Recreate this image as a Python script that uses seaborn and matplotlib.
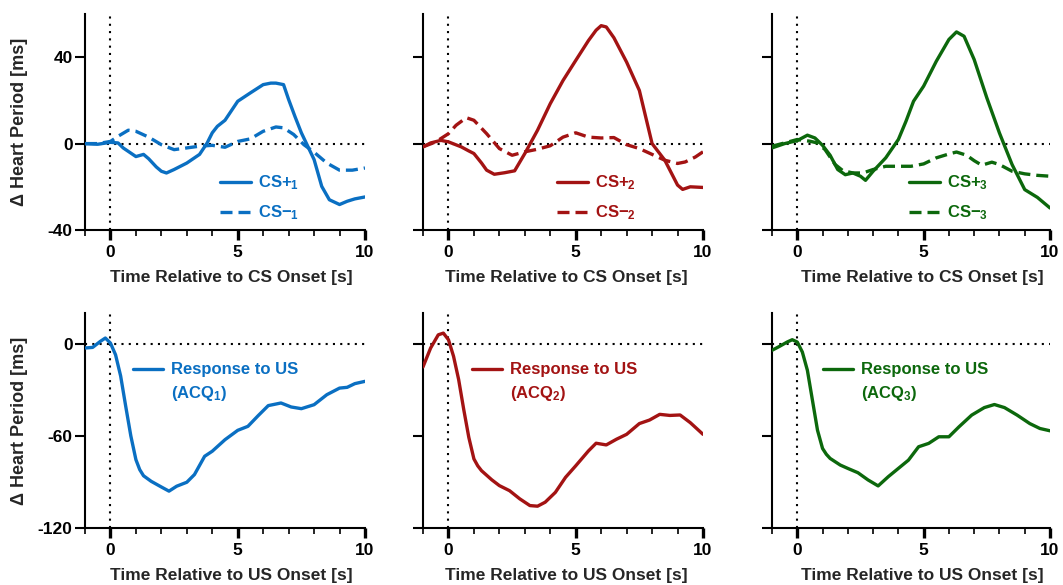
import matplotlib
matplotlib.use("Agg")
import matplotlib.pyplot as plt
import seaborn as sns
from matplotlib.lines import Line2D
from matplotlib.ticker import MultipleLocator

# ---------------- data (time in s, change in heart period in ms) ----------------
cs_plus_1_t = [-1, -0.5, 0, 0.3, 0.5, 1, 1.3, 1.5, 1.8, 2, 2.2, 2.5, 3, 3.5, 3.8, 4, 4.2, 4.5,
               5, 5.5, 6, 6.3, 6.5, 6.8, 7, 7.25, 7.5, 8, 8.3, 8.6, 9, 9.3, 9.6, 10]
cs_plus_1 = [0, -0.3, 0.6, 0.3, -2, -6, -5, -7, -10.8, -12.8, -13.6, -12, -9, -5, 0.3, 5, 8, 10.8,
             19.6, 23.5, 27.3, 28, 28, 27.3, 20.4, 12.5, 5, -7.4, -19.8, -26, -28.2, -26.7,
             -25.6, -24.7]
cs_minus_1_t = [-1, -0.5, 0, 0.3, 0.7, 1, 1.5, 2, 2.5, 3, 3.5, 4, 4.5, 5, 5.5, 6, 6.5, 6.8,
                7.2, 7.6, 8, 8.5, 9, 9.5, 10]
cs_minus_1 = [0, 0, 1, 3.4, 6.2, 5.7, 3, -0.5, -2.8, -2, -1.2, -0.8, -1.7, 1, 2.2, 5.7, 7.7, 7.3,
              4.2, -0.5, -4, -9, -12.3, -12.3, -11.3]

cs_plus_2_t = [-1, -0.7, -0.3, 0, 0.5, 0.8, 1, 1.3, 1.5, 1.8, 2.2, 2.6, 3, 3.5, 4, 4.5, 5, 5.5,
               5.8, 6, 6.2, 6.5, 7, 7.5, 8, 8.5, 9, 9.2, 9.5, 10]
cs_plus_2 = [-1.5, 0.3, 1.5, 0.8, -1.5, -3.4, -4.6, -9, -12.3, -14.2, -13.5, -12.6, -4.6, 6.2,
             18.5, 29.2, 38.5, 47.7, 52.5, 54.6, 54, 49, 37.7, 24.6, 0, -7.7, -19.2, -21.2, -20,
             -20.3]
cs_minus_2_t = [-1, -0.5, 0, 0.3, 0.7, 1, 1.5, 2, 2.5, 3, 3.5, 4, 4.5, 5, 5.5, 6, 6.5, 7, 7.5,
                8, 8.5, 9, 9.3, 9.7, 10]
cs_minus_2 = [-1.5, 0.8, 4.6, 8.5, 12, 10.8, 4.6, -2.3, -5.4, -3.8, -2.6, -1, 3, 5, 3, 2.6, 2.8,
              -0.5, -2.3, -5, -7.7, -9.2, -8.5, -6.2, -3.8]

cs_plus_3_t = [-1, -0.5, 0, 0.4, 0.7, 1, 1.3, 1.6, 1.9, 2.2, 2.5, 2.7, 3, 3.5, 4, 4.3, 4.6, 5,
               5.5, 6, 6.3, 6.6, 7, 7.5, 8, 8.5, 9, 9.5, 10]
cs_plus_3 = [-2, 0, 1.4, 3.9, 2.6, -0.8, -5.4, -12, -14.4, -13.6, -15.1, -17, -12.8, -6.6, 1.9,
             10.3, 19.6, 26.6, 38.1, 48.2, 51.7, 49.7, 38.9, 21.2, 4.9, -9.7, -21.3, -24.9, -29.8]
cs_minus_3_t = [-1, -0.5, 0, 0.5, 0.8, 1.1, 1.5, 1.8, 2.2, 2.6, 3, 3.5, 4, 4.5, 5, 5.5, 6, 6.3,
                6.7, 7, 7.3, 7.7, 8, 8.5, 9, 9.5, 10]
cs_minus_3 = [-1.2, 0.3, 1.9, 1.1, 0.3, -2.8, -9.7, -12.5, -13.6, -13.6, -12, -10.5, -10.5,
              -10.5, -9.4, -6.6, -4.8, -3.9, -5.4, -7.9, -10, -8.6, -9.7, -12.8, -14, -14.7, -15.1]

us_1_t = [-1, -0.7, -0.4, -0.2, 0, 0.2, 0.4, 0.6, 0.8, 1, 1.15, 1.3, 1.6, 2, 2.3, 2.6, 3, 3.3,
          3.7, 4, 4.5, 5, 5.4, 5.8, 6.2, 6.7, 7.1, 7.5, 8, 8.5, 9, 9.3, 9.6, 10]
us_1 = [-2.8, -2.4, 1.5, 3.7, 0.4, -7.2, -21, -40.8, -60, -75.5, -82, -86, -89.6, -93.3, -96,
        -92.8, -90.2, -85.2, -73.3, -70, -62.5, -56.4, -53.8, -46.9, -40.3, -38.6, -41.2, -42.3,
        -39.7, -33.2, -28.9, -28.4, -26, -24.5]

us_2_t = [-1, -0.7, -0.4, -0.2, 0, 0.2, 0.4, 0.6, 0.8, 1, 1.15, 1.3, 1.7, 2, 2.4, 2.8, 3.2,
          3.5, 3.8, 4.2, 4.6, 5, 5.5, 5.8, 6.2, 6.6, 7, 7.5, 7.9, 8.3, 8.7, 9.1, 9.5, 10]
us_2 = [-15.1, -2.8, 5.8, 6.9, 2.6, -8.2, -23.3, -42.8, -61, -75, -79.5, -82.7, -88.6, -92.4,
        -95.7, -101, -105.4, -105.8, -103.2, -96.8, -87, -79.5, -69.8, -64.8, -65.9, -62.2,
        -59, -52, -49.7, -46, -46.7, -46.4, -51.4, -59]

us_3_t = [-1, -0.7, -0.4, -0.2, 0, 0.2, 0.4, 0.6, 0.8, 1, 1.15, 1.3, 1.7, 2, 2.4, 2.8, 3.2, 3.6,
          4, 4.4, 4.8, 5.2, 5.6, 6, 6.4, 6.9, 7.4, 7.8, 8.2, 8.7, 9.2, 9.6, 10]
us_3 = [-4.3, -1.7, 1.1, 2.6, 1.1, -5.4, -17.3, -36.8, -56.3, -68.2, -72, -74.7, -79, -81.2,
        -84, -88.7, -92.6, -86.6, -81.2, -75.8, -67.1, -64.9, -60.6, -60.6, -54.1, -46.5,
        -41.6, -39.6, -41.6, -46.5, -52, -55.2, -56.7]

colors = ["#0A6FC2", "#A31313", "#0C680C"]
cs_plus = [(cs_plus_1_t, cs_plus_1), (cs_plus_2_t, cs_plus_2), (cs_plus_3_t, cs_plus_3)]
cs_minus = [(cs_minus_1_t, cs_minus_1), (cs_minus_2_t, cs_minus_2), (cs_minus_3_t, cs_minus_3)]
us_resp = [(us_1_t, us_1), (us_2_t, us_2), (us_3_t, us_3)]

# ---------------- style ----------------
sns.set_theme(style="ticks")
plt.rcParams.update({
    "font.family": ["Liberation Sans", "DejaVu Sans"],
    "font.weight": "bold",
    "axes.labelweight": "bold",
    "axes.unicode_minus": False,
    "mathtext.fontset": "custom",
    "mathtext.rm": "Liberation Sans:bold",
    "mathtext.it": "Liberation Sans:bold",
    "mathtext.bf": "Liberation Sans:bold",
    "axes.linewidth": 1.5,
    "axes.edgecolor": "black",
    "lines.solid_joinstyle": "round",
    "lines.dash_joinstyle": "round",
})

W, H = 1063, 585
fig = plt.figure(figsize=(W / 100, H / 100), dpi=100)

col_left = [85, 423, 772]
col_width = [280, 280, 278]
rows = [(14, 230), (313, 528)]
xlabel_x = [0.523, 0.512, 0.541]
DASH = (0, (3.6, 1.8))


def make_axes(col, row):
    top, bottom = rows[row]
    return fig.add_axes([col_left[col] / W, 1 - bottom / H,
                         col_width[col] / W, (bottom - top) / H])


def style_axes(ax, col, yticks, ylim, xlabel):
    ax.set_xlim(-1, 10)
    ax.set_ylim(*ylim)
    ax.set_xticks([0, 5, 10])
    ax.xaxis.set_minor_locator(MultipleLocator(1))
    ax.set_yticks(yticks)
    ax.tick_params(axis="x", which="major", length=7, width=2.4, labelsize=12.5, pad=4,
                   color="black", labelcolor="black")
    ax.tick_params(axis="x", which="minor", length=4, width=1.2, color="black")
    ax.tick_params(axis="y", which="major", length=7, width=1.5, labelsize=12.5, pad=2,
                   color="black", labelcolor="black")
    for lab in ax.get_xticklabels() + ax.get_yticklabels():
        lab.set_fontweight("bold")
    if col == 0:
        ax.set_ylabel("\u0394 Heart Period [ms]", fontsize=13, fontweight="bold")
        ax.yaxis.set_label_coords(-0.205, 0.5)
    else:
        ax.set_ylabel("")
        ax.set_yticklabels([])
    ax.set_xlabel(xlabel, fontsize=12.5, fontweight="bold", va="top")
    ax.xaxis.set_label_coords(xlabel_x[col], -0.185)
    sns.despine(ax=ax)
    dots = (0, (1, 2.5))
    ax.axvline(0, color="black", lw=1.5, ls=dots, zorder=1)
    ax.axhline(0, color="black", lw=1.5, ls=dots, zorder=1)


for col in range(3):
    c = colors[col]
    sub = col + 1

    # conditioned stimulus responses
    ax = make_axes(col, 0)
    t, v = cs_plus[col]
    sns.lineplot(x=t, y=v, ax=ax, color=c, lw=2.4, estimator=None, sort=False, zorder=3)
    t, v = cs_minus[col]
    sns.lineplot(x=t, y=v, ax=ax, color=c, lw=2.4, estimator=None, sort=False, zorder=3)
    ax.lines[1].set_linestyle(DASH)
    style_axes(ax, col, [-40, 0, 40], (-40, 60), "Time Relative to CS Onset [s]")
    handles = [Line2D([], [], color=c, lw=2.4), Line2D([], [], color=c, lw=2.4, ls=DASH)]
    leg = ax.legend(handles, [f"CS+$_{sub}$", f"CS\u2212$_{sub}$"],
                    loc="upper left", bbox_to_anchor=([0.482, 0.479, 0.493][col], 0.262),
                    frameon=False, borderpad=0, borderaxespad=0, handlelength=1.85,
                    handletextpad=0.45, labelspacing=0.68,
                    prop={"size": 12, "weight": "bold"})
    for txt in leg.get_texts():
        txt.set_color(c)

    # unconditioned stimulus responses
    ax = make_axes(col, 1)
    t, v = us_resp[col]
    sns.lineplot(x=t, y=v, ax=ax, color=c, lw=2.4, estimator=None, sort=False, zorder=3)
    style_axes(ax, col, [-120, -60, 0], (-120, 20), "Time Relative to US Onset [s]")
    handles = [Line2D([], [], color=c, lw=2.4), Line2D([], [], color="none")]
    leg = ax.legend(handles, ["Response to US", f"(ACQ$_{sub}$)"],
                    loc="upper left", bbox_to_anchor=([0.171, 0.175, 0.183][col], 0.77),
                    frameon=False, borderpad=0, borderaxespad=0, handlelength=1.8,
                    handletextpad=0.5, labelspacing=0.4,
                    prop={"size": 12, "weight": "bold"})
    for txt in leg.get_texts():
        txt.set_color(c)

fig.savefig("out.png", dpi=100)
